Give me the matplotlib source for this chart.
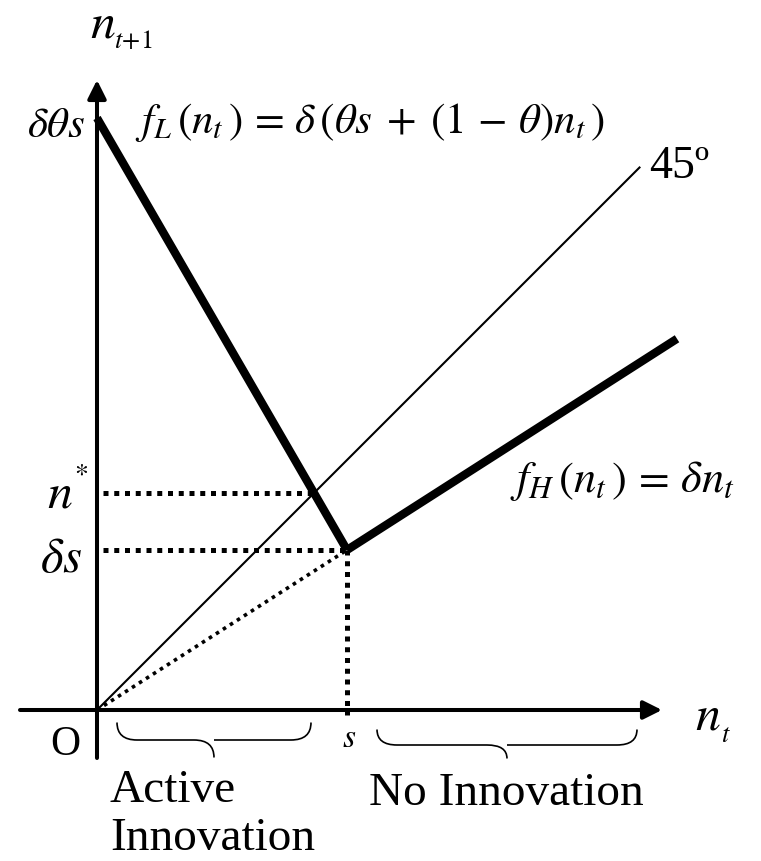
import matplotlib.pyplot as plt
from matplotlib.path import Path
from matplotlib.patches import PathPatch

plt.rcParams['mathtext.fontset'] = 'stix'
plt.rcParams['font.family'] = 'Liberation Serif'

# model values (units: s = 1)
s_val = 1.0
delta_s = 0.64
delta_theta_s = 2.368
n_star = 0.868

fL_x = [0.0, s_val]
fL_y = [delta_theta_s, delta_s]
fH_x = [s_val, 2.32]
fH_y = [delta_s, 1.485]
line45_x = [0.0, 2.17]
line45_y = [0.0, 2.17]

# brace spans under the horizontal axis
active_span = [0.08, 0.856]
noinnov_span = [1.12, 2.16]

fig = plt.figure(figsize=(7.61, 8.61), dpi=100)
ax = fig.add_axes([0, 0, 1, 1])
ax.set_xlim(-0.388, 2.656)
ax.set_ylim(-0.604, 2.84)
ax.axis('off')

# axes with arrow heads
arr = dict(arrowstyle='-|>', lw=2.9, color='black', mutation_scale=28,
           shrinkA=0, shrinkB=0)
ax.annotate('', xy=(2.26, 0), xytext=(-0.308, 0), arrowprops=arr)
ax.annotate('', xy=(0, 2.52), xytext=(0, -0.192), arrowprops=arr)

# 45 degree line
ax.plot(line45_x, line45_y, color='black', lw=1.5)

# dotted guides
dots = (0, (1.0, 1.15))
ax.plot([0.024, n_star], [n_star, n_star], color='black', lw=3.6,
        linestyle=dots, dash_capstyle='butt')
ax.plot([0.024, s_val], [delta_s, delta_s], color='black', lw=3.6,
        linestyle=dots, dash_capstyle='butt')
ax.plot([s_val, s_val], [delta_s, -0.02], color='black', lw=3.6,
        linestyle=dots, dash_capstyle='butt')
ax.plot([0.0, s_val], [0.0, delta_s], color='black', lw=2.6,
        linestyle=(0, (1.0, 1.3)), dash_capstyle='butt')

# thick map
ax.plot(fL_x, fL_y, color='black', lw=6, solid_capstyle='butt',
        solid_joinstyle='miter')
ax.plot(fH_x, fH_y, color='black', lw=6, solid_capstyle='butt')


def brace(x0, x1, ytop, yline, ytip):
    xm = (x0 + x1) / 2
    r = 0.08
    verts = [(x0, ytop), (x0, yline), (x0 + r, yline),
             (xm - r, yline), (xm, yline), (xm, ytip),
             (xm, yline), (xm + r, yline),
             (x1 - r, yline), (x1, yline), (x1, ytop)]
    codes = [Path.MOVETO, Path.CURVE3, Path.CURVE3,
             Path.LINETO, Path.CURVE3, Path.CURVE3,
             Path.MOVETO, Path.CURVE3,
             Path.LINETO, Path.CURVE3, Path.CURVE3]
    ax.add_patch(PathPatch(Path(verts, codes), fill=False, lw=1.2,
                           color='black'))


brace(active_span[0], active_span[1], -0.05, -0.12, -0.19)
brace(noinnov_span[0], noinnov_span[1], -0.078, -0.14, -0.194)

# labels
ax.text(-0.028, 2.692, r'$n$', fontsize=36, ha='left', va='baseline')
ax.text(0.07, 2.648, r'$t\!+\!1$', fontsize=19, ha='left', va='baseline')
ax.text(-0.28, 2.292, r'$\delta\theta s$', fontsize=31, ha='left', va='baseline')
ax.text(0.152, 2.308,
        r'$f_L\,(n_t\,)\,=\,\delta\,(\theta s\;+\;(1\,-\,\theta)n_t\,)$',
        fontsize=31, ha='left', va='baseline')
ax.text(2.208, 2.128, '45º', fontsize=33, ha='left', va='baseline')
ax.text(1.652, 0.872, r'$f_H\,(n_t\,)\,=\,\delta n_t$', fontsize=32,
        ha='left', va='baseline')
ax.text(-0.2, 0.812, r'$n$', fontsize=36, ha='left', va='baseline')
ax.text(-0.09, 0.915, r'$*$', fontsize=20, ha='left', va='baseline')
ax.text(-0.228, 0.552, r'$\delta s$', fontsize=35, ha='left', va='baseline')
ax.text(0.98, -0.148, r'$s$', fontsize=24, ha='left', va='baseline')
ax.text(2.392, -0.08, r'$n$', fontsize=36, ha='left', va='baseline')
ax.text(2.495, -0.128, r'$t$', fontsize=19, ha='left', va='baseline')
ax.text(-0.188, -0.18, 'O', fontsize=30, ha='left', va='baseline')
ax.text(0.052, -0.368, 'Active', fontsize=34, ha='left', va='baseline')
ax.text(0.052, -0.56, 'Innovation', fontsize=34, ha='left', va='baseline')
ax.text(1.088, -0.38, 'No Innovation', fontsize=34, ha='left', va='baseline')

fig.savefig('out.png', dpi=100)
